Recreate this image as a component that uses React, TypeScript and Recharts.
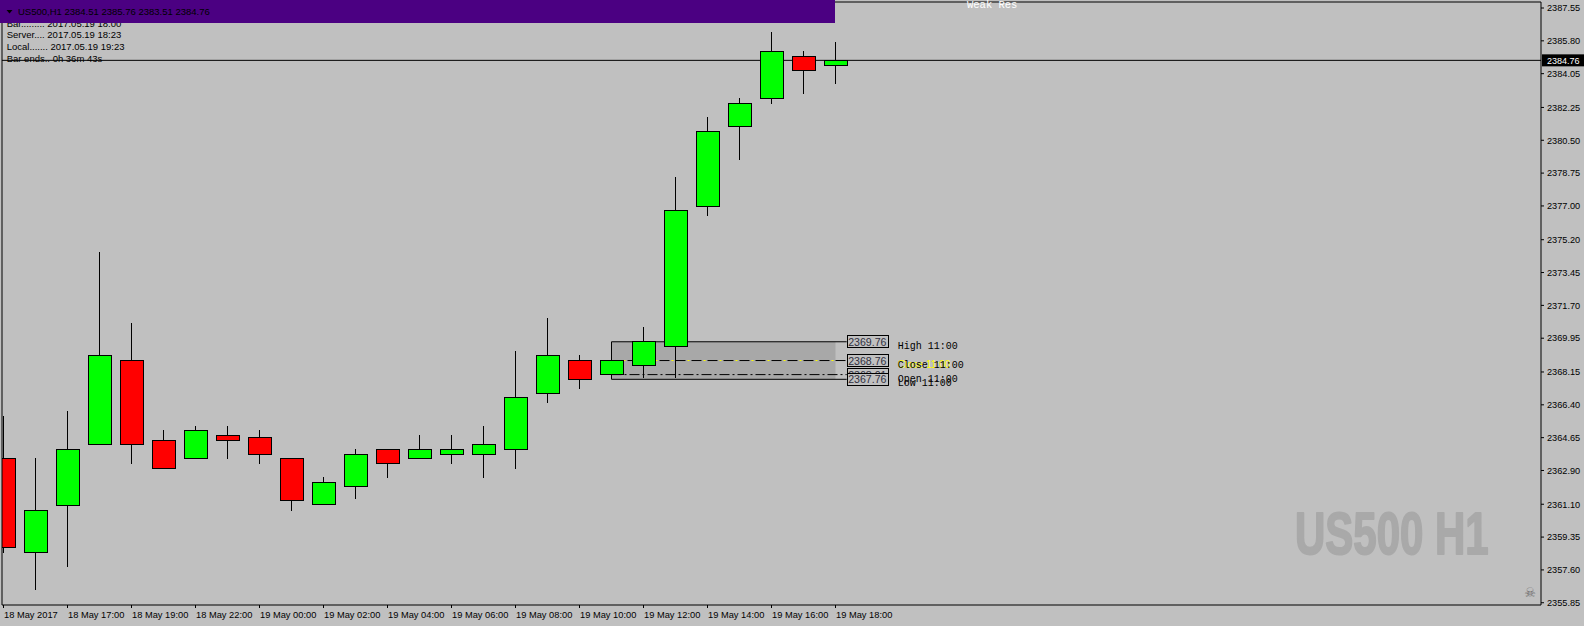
import { ComposedChart, Bar, XAxis, YAxis, ReferenceLine, ReferenceArea } from 'recharts';

// US500 H1 candles, 18 May 15:00 .. 19 May 18:00
const times = [
  '18 May 15:00', '18 May 16:00', '18 May 17:00', '18 May 18:00', '18 May 19:00', '18 May 20:00',
  '18 May 22:00', '18 May 23:00', '19 May 00:00', '19 May 01:00', '19 May 02:00', '19 May 03:00',
  '19 May 04:00', '19 May 05:00', '19 May 06:00', '19 May 07:00', '19 May 08:00', '19 May 09:00',
  '19 May 10:00', '19 May 11:00', '19 May 12:00', '19 May 13:00', '19 May 14:00', '19 May 15:00',
  '19 May 16:00', '19 May 17:00', '19 May 18:00',
];
const opens = [
  2363.55, 2358.54, 2361.02, 2364.29, 2368.77, 2364.51, 2363.55, 2364.77, 2364.67, 2363.55,
  2361.08, 2362.05, 2364.03, 2363.55, 2363.76, 2363.76, 2364.03, 2366.99, 2368.77, 2368.01,
  2368.5, 2369.52, 2376.98, 2381.24, 2382.74, 2384.98, 2384.51,
];
const highs = [
  2365.8, 2363.55, 2366.07, 2374.54, 2370.76, 2365.06, 2365.27, 2365.27, 2365.06, 2363.55,
  2362.55, 2364.04, 2364.03, 2364.79, 2364.79, 2365.27, 2369.27, 2371.03, 2369.05, 2369.76,
  2370.55, 2378.54, 2381.74, 2382.75, 2386.27, 2385.26, 2385.76,
];
const lows = [
  2358.52, 2356.54, 2357.77, 2364.29, 2363.26, 2363.01, 2363.55, 2363.53, 2363.26, 2360.75,
  2361.08, 2361.38, 2362.51, 2363.55, 2363.26, 2362.51, 2362.99, 2366.51, 2367.26, 2367.76,
  2367.81, 2367.81, 2376.48, 2379.46, 2382.45, 2382.98, 2383.51,
];
const closes = [
  2358.8, 2360.78, 2364.03, 2369.04, 2364.29, 2363.01, 2365.04, 2364.51, 2363.76, 2361.31,
  2362.27, 2363.76, 2363.28, 2364.03, 2364.03, 2364.29, 2366.8, 2369.04, 2367.74, 2368.76,
  2369.78, 2376.77, 2380.99, 2382.47, 2385.24, 2384.23, 2384.76,
];

const xTickIndex = [0, 2, 4, 6, 8, 10, 12, 14, 16, 18, 20, 22, 24, 26];
const xTickLabels = [
  '18 May 2017', '18 May 17:00', '18 May 19:00', '18 May 22:00', '19 May 00:00', '19 May 02:00',
  '19 May 04:00', '19 May 06:00', '19 May 08:00', '19 May 10:00', '19 May 12:00', '19 May 14:00',
  '19 May 16:00', '19 May 18:00',
];
const yTicks = [
  2387.55, 2385.8, 2384.05, 2382.25, 2380.5, 2378.75, 2377.0, 2375.2, 2373.45, 2371.7,
  2369.95, 2368.15, 2366.4, 2364.65, 2362.9, 2361.1, 2359.35, 2357.6, 2355.85,
];

const lastPrice = 2384.76;
// 11:00 levels
const levelNames = ['High 11:00', 'Close 11:00', 'Open 11:00', 'Low 11:00'];
const levelValues = [2369.76, 2368.76, 2368.01, 2367.76];

const data = times.map((t, i) => ({
  i,
  time: t,
  open: opens[i],
  high: highs[i],
  low: lows[i],
  close: closes[i],
}));

const X_MIN = -0.046875;
const X_MAX = 48.046875;
const Y_MIN = 2355.73;
const Y_MAX = 2387.87;
const BOX_START = 19;
const BOX_END = 26;
const LINE_END = 26.35;

const sans = "Tahoma, 'Liberation Sans', Arial, sans-serif";
const mono = "'Liberation Mono', 'DejaVu Sans Mono', monospace";

const Candle = (props: any) => {
  const { x, y, width, height, payload } = props;
  const cx = x + width / 2;
  const top = Math.min(y, y + height);
  const h = Math.abs(height);
  const range = payload.high - payload.low;
  const toY = (p: number) => (range === 0 ? top : top + ((payload.high - p) / range) * h);
  const yo = toY(payload.open);
  const yc = toY(payload.close);
  const up = payload.close >= payload.open;
  const bodyTop = Math.min(yo, yc);
  const bodyH = Math.max(Math.abs(yc - yo), 1);
  return (
    <g shapeRendering="crispEdges">
      <line x1={cx} x2={cx} y1={top} y2={top + h} stroke="#000" strokeWidth={1} />
      <rect x={cx - 11.5} y={bodyTop} width={23} height={bodyH} fill={up ? '#00ff00' : '#ff0000'} stroke="#000" strokeWidth={1} />
    </g>
  );
};

const XTick = (props: any) => {
  const { x, y, payload } = props;
  const k = xTickIndex.indexOf(payload.value);
  return (
    <text x={x + 0.5} y={y + 8} fontSize={9.3} fontFamily={sans} fill="#000" textAnchor="start">
      {xTickLabels[k]}
    </text>
  );
};

const priceLabel = (props: any) => {
  const { viewBox } = props;
  const right = viewBox.x + viewBox.width;
  return (
    <g>
      <rect x={right + 1} y={viewBox.y - 6} width={44} height={12} fill="#000" />
      <text x={right + 6} y={viewBox.y + 3.5} fontSize={9} fontFamily={sans} fill="#fff">
        {lastPrice.toFixed(2)}
      </text>
    </g>
  );
};

const levelLabel = (k: number) => (props: any) => {
  const { viewBox } = props;
  const right = viewBox.x + viewBox.width;
  const ly = viewBox.y;
  return (
    <g>
      <rect x={right + 0.5} y={ly - 6} width={41} height={12} fill="#c0c0c0" stroke="#000" shapeRendering="crispEdges" />
      <text x={right + 1.5} y={ly + 4} fontSize={10.6} fontFamily={sans} fill="#303040">
        {levelValues[k].toFixed(2)}
      </text>
      {k === 1 && (
        <text x={right + 51} y={ly + 7} fontSize={10} fontFamily={sans} fill="#ffff00">
          {levelNames[k]}
        </text>
      )}
      <text x={right + 51} y={ly + 7} fontSize={10} fontFamily={mono} fill="#000">
        {levelNames[k]}
      </text>
    </g>
  );
};

export default function App() {
  return (
    <div style={{ position: 'fixed', left: 0, top: 0, width: 1584, height: 626, background: '#c0c0c0', overflow: 'hidden' }}>
      <svg width={1584} height={626} style={{ position: 'absolute', left: 0, top: 0 }}>
        <g transform="translate(1295 554) scale(0.7 1)">
          <text x={0} y={0} fontSize={60} fontWeight="bold" fontFamily="'Liberation Sans', Arial, sans-serif" fill="#a9a9a9" stroke="#a9a9a9" strokeWidth={2} strokeLinejoin="round">
            US500 H1
          </text>
        </g>
        <text x={1530} y={597} fontSize={13} fontFamily="'DejaVu Sans', sans-serif" fill="#6e6e6e" textAnchor="middle">
          ☠
        </text>
      </svg>
      <div style={{ position: 'absolute', left: 0, top: 0 }}>
        <ComposedChart width={1584} height={626} data={data} margin={{ top: 2, right: 0, bottom: 0, left: 2 }}>
          <XAxis
            dataKey="i"
            type="number"
            domain={[X_MIN, X_MAX]}
            allowDataOverflow
            ticks={xTickIndex}
            interval={0}
            tickSize={3}
            tick={<XTick />}
            height={21}
            axisLine={{ stroke: '#000' }}
            tickLine={{ stroke: '#000' }}
          />
          <YAxis
            orientation="right"
            type="number"
            domain={[Y_MIN, Y_MAX]}
            allowDataOverflow
            ticks={yTicks}
            interval={0}
            tickSize={3}
            tickMargin={3}
            width={43}
            tickFormatter={(v: number) => v.toFixed(2)}
            tick={{ fontSize: 9.2, fill: '#000', fontFamily: sans }}
            axisLine={{ stroke: '#000' }}
            tickLine={{ stroke: '#000' }}
          />
          <ReferenceLine x={X_MIN} stroke="#000" ifOverflow="visible" />
          <ReferenceLine y={Y_MAX} stroke="#000" ifOverflow="visible" />
          <ReferenceArea x1={BOX_START} x2={BOX_END} y1={levelValues[3]} y2={levelValues[0]} fill="#a8a8a8" fillOpacity={1} stroke="none" zIndex={100} />
          <ReferenceLine segment={[{ x: BOX_START, y: levelValues[3] }, { x: BOX_START, y: levelValues[0] }]} stroke="#000" zIndex={250} />
          <ReferenceLine segment={[{ x: BOX_START, y: levelValues[0] }, { x: LINE_END, y: levelValues[0] }]} stroke="#000" zIndex={250} label={{ content: levelLabel(0) }} />
          <ReferenceLine segment={[{ x: BOX_START, y: levelValues[1] }, { x: LINE_END, y: levelValues[1] }]} stroke="#000" strokeDasharray="10 6" zIndex={250} />
          <ReferenceLine segment={[{ x: BOX_START, y: levelValues[1] }, { x: LINE_END, y: levelValues[1] }]} stroke="#ffff00" strokeDasharray="2 14" strokeDashoffset={-12} zIndex={250} label={{ content: levelLabel(1) }} />
          <ReferenceLine segment={[{ x: BOX_START, y: levelValues[2] }, { x: LINE_END, y: levelValues[2] }]} stroke="#000" strokeDasharray="10 3 2 3" zIndex={250} label={{ content: levelLabel(2) }} />
          <ReferenceLine segment={[{ x: BOX_START, y: levelValues[3] }, { x: LINE_END, y: levelValues[3] }]} stroke="#000" zIndex={250} label={{ content: levelLabel(3) }} />
          <ReferenceLine y={lastPrice} stroke="#000" zIndex={250} label={{ content: priceLabel }} />
          <Bar dataKey={(d: any) => [d.low, d.high]} barSize={24} shape={<Candle />} isAnimationActive={false} />
        </ComposedChart>
      </div>
      <svg width={1584} height={626} style={{ position: 'absolute', left: 0, top: 0, pointerEvents: 'none' }}>
        <g fontFamily={sans} fontSize={9.5} fill="#000">
          <text x={6.7} y={26.6}>Bar......... 2017.05.19 18:00</text>
          <text x={6.7} y={38.4}>Server.... 2017.05.19 18:23</text>
          <text x={6.7} y={50.4}>Local....... 2017.05.19 19:23</text>
          <text x={6.7} y={62.4}>Bar ends.. 0h 36m 43s</text>
        </g>
        <rect x={0} y={0} width={835} height={23} fill="#4b0082" />
        <path d="M6.5 10 L12.5 10 L9.5 13.5 Z" fill="#000" />
        <text x={18} y={14.5} fontFamily={sans} fontSize={9.5} fill="#000">
          US500,H1  2384.51 2385.76 2383.51 2384.76
        </text>
        <text x={967} y={8} fontFamily={mono} fontSize={10.5} fill="#ffffff" style={{ whiteSpace: 'pre' }}>
          Weak Res
        </text>
      </svg>
    </div>
  );
}
